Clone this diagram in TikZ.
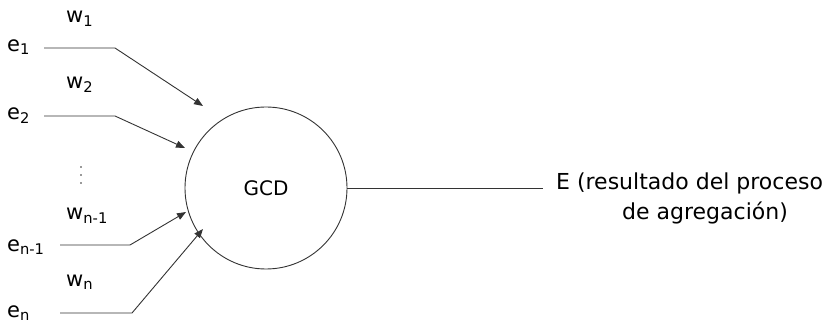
\documentclass[tikz,border=0pt]{standalone}
\usepackage{fontspec}
\setmainfont{DejaVu Sans}
\usetikzlibrary{arrows.meta}
\tikzset{
  lbl/.style={inner sep=0pt, font=\fontsize{21}{24}\selectfont},
  big/.style={inner sep=0pt, font=\fontsize{22}{26}\selectfont},
  wire/.style={draw=black!80, line width=0.9pt},
  arr/.style={wire, -{Triangle[length=9pt,width=7pt]}},
}
\newcommand{\sbs}[1]{\textsubscript{#1}}
\begin{document}
\begin{tikzpicture}[x=1pt,y=-1pt]
\useasboundingbox (0,0) rectangle (827,323);
% central node
\node[circle, draw=black!80, line width=0.9pt, minimum size=162pt, inner sep=0pt,
      font=\fontsize{20}{24}\selectfont] (gcd) at (266,188) {GCD};
% inputs
\node[lbl, anchor=west] (e1) at (7,47) {e\sbs{1}};
\node[lbl, anchor=west] (e2) at (7,116) {e\sbs{2}};
\node[lbl, anchor=west] (en1) at (7,247) {e\sbs{n-1}};
\node[lbl, anchor=west] (en) at (7,313) {e\sbs{n}};
\node[lbl, anchor=west] (w1) at (66,19) {w\sbs{1}};
\node[lbl, anchor=west] (w2) at (66,85) {w\sbs{2}};
\node[lbl, anchor=west] (wn1) at (66,216) {w\sbs{n-1}};
\node[lbl, anchor=west] (wn) at (66,282) {w\sbs{n}};
\node[inner sep=0pt, minimum size=20pt] (dots) at (81,175) {};
\foreach \dy in {-8,0,8} \fill[black!80] ([yshift=\dy pt]dots.center) circle (0.9pt);
% bend and tip points
\coordinate (b1) at (115,48);
\coordinate (t1) at (203,106);
\coordinate (b2) at (115,116);
\coordinate (t2) at (185,148);
\coordinate (b3) at (130,245);
\coordinate (t3) at (186,212);
\coordinate (b4) at (132,313);
\coordinate (t4) at (203,229);
\coordinate (s1) at (44,48);
\coordinate (s2) at (44,116);
\coordinate (s3) at (60,245);
\coordinate (s4) at (60,313);
\draw[arr] (s1) -- (b1) -- (t1);
\draw[arr] (s2) -- (b2) -- (t2);
\draw[arr] (s3) -- (b3) -- (t3);
\draw[arr] (s4) -- (b4) -- (t4);
% output
\node[big, anchor=west] (out1) at (556,183) {E (resultado del proceso};
\node[big, anchor=west] (out2) at (622,213) {de agregación)};
\coordinate (o1) at (543,188);
\draw[wire] (gcd.east) -- (o1);
\end{tikzpicture}
\end{document}
